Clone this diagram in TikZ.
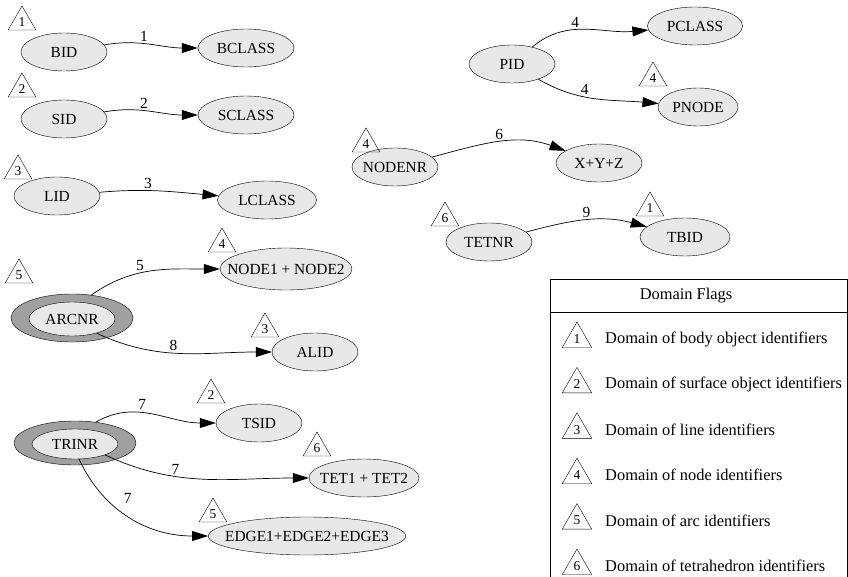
\documentclass[tikz,border=0pt]{standalone}
\usepackage{fontspec}
\setmainfont{Liberation Serif}
\usetikzlibrary{shapes.geometric, arrows.meta, positioning}
\definecolor{fillgray}{HTML}{E8E8E8}
\definecolor{ringgray}{HTML}{A0A0A0}

\begin{document}
\fontsize{15.4}{17}\selectfont
\begin{tikzpicture}[
    x=1pt, y=-1pt,
    % node styles
    entity/.style={ellipse, draw, fill=fillgray, minimum width=86pt, minimum height=38pt, inner xsep=-12pt, inner ysep=0pt},
    ring/.style={ellipse, draw, fill=ringgray, minimum width=122pt, minimum height=48pt},
    flag/.style={regular polygon, regular polygon sides=3, draw, minimum size=32pt, inner sep=0pt, font=\fontsize{13.5}{14}\selectfont},
    arrow/.style={-{Triangle[length=16pt,width=10pt]}, line width=0.7pt},
    lbl/.style={above, inner sep=2pt},
    legendtext/.style={anchor=west, inner sep=0pt, font=\fontsize{16.4}{18}\selectfont}
]
    \useasboundingbox (0,0) rectangle (848,577);

    % body, surface and line identifiers
    \node[entity] (bid) at (64,52) {BID};
    \node[entity, minimum width=96pt] (bclass) at (246,48) {BCLASS};
    \node[flag] (fbid) at (22,22) {1};
    \node[entity] (sid) at (64,119) {SID};
    \node[entity, minimum width=96pt] (sclass) at (246,115) {SCLASS};
    \node[flag] (fsid) at (22,89) {2};
    \node[entity] (lid) at (57,196) {LID};
    \node[entity, minimum width=99pt] (lclass) at (267,200) {LCLASS};
    \node[flag] (flid) at (18,171) {3};

    % arcs
    \node[ring] (arcnrring) at (72,318) {};
    \node[entity, minimum height=34pt] (arcnr) at (72,319) {ARCNR};
    \node[flag] (farcnr) at (19,275) {5};
    \node[entity, minimum width=117pt, minimum height=42pt] (nodes) at (286,269) {NODE1 + NODE2};
    \node[flag] (fnodes) at (222,244) {4};
    \node[entity] (alid) at (315,352) {ALID};
    \node[flag] (falid) at (265,329) {3};

    % triangles
    \node[ring, minimum height=44pt] (trinrring) at (75,443) {};
    \node[entity, minimum height=30pt] (trinr) at (75,444) {TRINR};
    \node[entity] (tsid) at (259,423) {TSID};
    \node[flag] (ftsid) at (211,395) {2};
    \node[entity, minimum width=110pt] (tets) at (364,478) {TET1 + TET2};
    \node[flag] (ftets) at (317,448) {6};
    \node[entity, minimum width=183pt] (edges) at (307,536) {EDGE1+EDGE2+EDGE3};
    \node[flag] (fedges) at (213,514) {5};

    % points, nodes and tetrahedra
    \node[entity] (pid) at (512,64) {PID};
    \node[entity, minimum width=95pt] (pclass) at (695,26) {PCLASS};
    \node[entity, minimum width=80pt] (pnode) at (698,107) {PNODE};
    \node[flag] (fpnode) at (653,78) {4};
    \node[entity] (nodenr) at (395,167) {NODENR};
    \node[flag] (fnodenr) at (366,144) {4};
    \node[entity] (xyz) at (599,163) {X+Y+Z};
    \node[entity] (tetnr) at (489,242) {TETNR};
    \node[flag] (ftetnr) at (445,218) {6};
    \node[entity, minimum width=90pt] (tbid) at (685,237) {TBID};
    \node[flag] (ftbid) at (650,208) {1};

    % connections
    \draw[arrow] (bid) to[out=10, in=180] node[lbl, pos=0.42] {1} (bclass);
    \draw[arrow] (sid) to[out=10, in=180] node[lbl, pos=0.42] {2} (sclass);
    \draw[arrow] (lid) to[out=5, in=175] node[lbl, pos=0.4] {3} (lclass);
    \draw[arrow] (arcnrring.50) to[out=35, in=180] node[lbl, pos=0.4] {5} (nodes);
    \draw[arrow] (arcnr.-30) to[out=-25, in=180] node[lbl, pos=0.45] {8} (alid);
    \draw[arrow] (trinrring.45) to[out=30, in=180] node[lbl, pos=0.4] {7} (tsid);
    \draw[arrow] (trinr.-20) to[out=-25, in=180] node[lbl, pos=0.35] {7} (tets);
    \draw[arrow] (trinr.-75) to[out=-65, in=180] node[above right, pos=0.4] {7} (edges);
    \draw[arrow] (pid) to[out=40, in=185] node[lbl, pos=0.4] {4} (pclass);
    \draw[arrow] (pid) to[out=-30, in=175] node[lbl, pos=0.4] {4} (pnode);
    \draw[arrow] (nodenr) to[out=15, in=160] node[lbl] {6} (xyz);
    \draw[arrow] (tetnr) to[out=15, in=165] node[lbl] {9} (tbid);

    % legend
    \draw[line width=0.7pt] (550,580) -- (550,279) -- (847,279) -- (847,580);
    \draw[line width=0.7pt] (550,312) -- (847,312);
    \node[font=\fontsize{16.4}{18}\selectfont] (legtitle) at (686,296) {Domain Flags};
    \foreach \n/\txt in {1/body object, 2/surface object, 3/line, 4/node, 5/arc, 6/tetrahedron} {
        \node[flag, minimum size=34pt] (leg\n) at (577,{339+45.4*(\n-1)}) {\n};
        \node[legendtext] (legtxt\n) at (605,{339+45.4*(\n-1)}) {Domain of \txt\ identifiers};
    }
\end{tikzpicture}
\end{document}
